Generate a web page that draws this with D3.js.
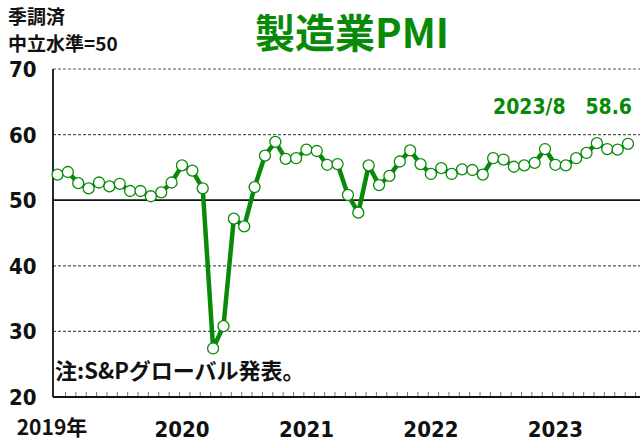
<!DOCTYPE html>
<html>
<head>
<meta charset="utf-8">
<script src="https://cdn.jsdelivr.net/npm/d3@7"></script>
<style>
  body { margin: 0; background: #fff; }
  svg { display: block; }
  text { font-weight: bold; }
</style>
</head>
<body>
<svg class="pmi-chart" width="641" height="442"></svg>
<script>
// India manufacturing PMI, monthly 2019/1 - 2023/8
const months = [];
for (let yr = 2019; yr <= 2023; yr++) {
  for (let m = 1; m <= 12; m++) {
    if (yr === 2023 && m > 8) break;
    months.push(yr + '/' + m);
  }
}

const pmi2019 = [53.9, 54.3, 52.6, 51.8, 52.7, 52.1, 52.5, 51.4, 51.4, 50.6, 51.2, 52.7];
const pmi2020 = [55.3, 54.5, 51.8, 27.4, 30.8, 47.2, 46.0, 52.0, 56.8, 58.9, 56.3, 56.4];
const pmi2021 = [57.7, 57.5, 55.4, 55.5, 50.8, 48.1, 55.3, 52.3, 53.7, 55.9, 57.6, 55.5];
const pmi2022 = [54.0, 54.9, 54.0, 54.7, 54.6, 53.9, 56.4, 56.2, 55.1, 55.3, 55.7, 57.8];
const pmi2023 = [55.4, 55.3, 56.4, 57.2, 58.7, 57.8, 57.7, 58.6];
const pmi = pmi2019.concat(pmi2020, pmi2021, pmi2022, pmi2023);

const yTicks = [20, 30, 40, 50, 60, 70];
const yearLabels = ['2019年', '2020', '2021', '2022', '2023'];
const yearStarts = ['2019/1', '2020/1', '2021/1', '2022/1', '2023/1'];

const data = months.map(function(m, i) { return { month: m, value: pmi[i] }; });

const green = '#088a08';
const narrow = '"Liberation Sans Narrow", "DejaVu Sans Condensed", sans-serif';
const jp = '"Noto Sans CJK JP", sans-serif';

const svg = d3.select('svg.pmi-chart');

const plotLeft = 53, plotRight = 640, plotTop = 69, plotBottom = 397;

const x = d3.scalePoint().domain(months).range([57.5, 628]);
// tick marks sit a bit right of each point
const xt = d3.scalePoint().domain(months).range([65, 635]);
const y = d3.scaleLinear().domain([20, 70]).range([plotBottom, plotTop]);

// grid lines
svg.append('g')
  .selectAll('line')
  .data(yTicks.filter(function(t) { return t > 20; }))
  .enter()
  .append('line')
  .attr('x1', plotLeft)
  .attr('x2', plotRight)
  .attr('y1', function(d) { return y(d); })
  .attr('y2', function(d) { return y(d); })
  .attr('stroke', function(d) { return d === 50 ? '#111' : '#555'; })
  .attr('stroke-width', function(d) { return d === 50 ? 1.8 : 1.2; })
  .attr('stroke-dasharray', function(d) { return d === 50 ? null : '3,2'; });

// x axis with inward ticks
const xAxis = svg.append('g')
  .attr('transform', 'translate(0,' + plotBottom + ')')
  .call(d3.axisBottom(xt).tickSizeInner(-5).tickSizeOuter(0).tickFormat(''));
xAxis.select('.domain').remove();
xAxis.selectAll('.tick line').attr('stroke', '#777');

svg.append('line')
  .attr('x1', plotLeft).attr('x2', plotRight)
  .attr('y1', plotBottom).attr('y2', plotBottom)
  .attr('stroke', '#111').attr('stroke-width', 2);

svg.append('line')
  .attr('x1', plotLeft).attr('x2', plotLeft)
  .attr('y1', plotTop).attr('y2', plotBottom)
  .attr('stroke', '#111').attr('stroke-width', 1.8);

// y tick labels
svg.append('g')
  .selectAll('text')
  .data(yTicks)
  .enter()
  .append('text')
  .attr('x', 9)
  .attr('y', function(d) { return y(d) + 8; })
  .attr('font-family', narrow)
  .attr('font-size', 22)
  .attr('fill', '#111')
  .text(function(d) { return d; });

// year labels
svg.append('g')
  .selectAll('text')
  .data(yearLabels)
  .enter()
  .append('text')
  .attr('x', function(d, i) { return i === 0 ? 52 : x(yearStarts[i]); })
  .attr('y', function(d) { return d.indexOf('年') > -1 ? 435 : 437; })
  .attr('text-anchor', 'middle')
  .attr('font-family', function(d) { return d.indexOf('年') > -1 ? jp : narrow; })
  .attr('font-size', function(d) { return d.indexOf('年') > -1 ? 21 : 22; })
  .attr('fill', '#111')
  .text(function(d) { return d; });

// line
const line = d3.line()
  .x(function(d) { return x(d.month); })
  .y(function(d) { return y(d.value); });

svg.append('path')
  .datum(data)
  .attr('d', line)
  .attr('fill', 'none')
  .attr('stroke', green)
  .attr('stroke-width', 4.5)
  .attr('stroke-linejoin', 'round');

svg.append('g')
  .selectAll('circle')
  .data(data)
  .enter()
  .append('circle')
  .attr('cx', function(d) { return x(d.month); })
  .attr('cy', function(d) { return y(d.value); })
  .attr('r', 5.5)
  .attr('fill', '#fff')
  .attr('stroke', green)
  .attr('stroke-width', 1.3);

// texts
svg.append('text')
  .attr('x', 352).attr('y', 48)
  .attr('text-anchor', 'middle')
  .attr('font-family', jp)
  .attr('font-size', 40)
  .attr('fill', green)
  .text('製造業PMI');

svg.append('text')
  .attr('x', 8).attr('y', 24)
  .attr('font-family', jp)
  .attr('font-size', 19)
  .attr('fill', '#111')
  .text('季調済');

svg.append('text')
  .attr('x', 8).attr('y', 51)
  .attr('font-family', jp)
  .attr('font-size', 19)
  .attr('fill', '#111')
  .text('中立水準=50');

const last = data[data.length - 1];
svg.append('text')
  .attr('x', 632).attr('y', 114)
  .attr('text-anchor', 'end')
  .attr('font-family', narrow)
  .attr('font-size', 21)
  .attr('fill', green)
  .attr('xml:space', 'preserve')
  .text(last.month + '   ' + last.value.toFixed(1));

svg.append('text')
  .attr('x', 55).attr('y', 379)
  .attr('font-family', jp)
  .attr('font-size', 22)
  .attr('fill', '#111')
  .text('注:S&Pグローバル発表。');
</script>
</body>
</html>
